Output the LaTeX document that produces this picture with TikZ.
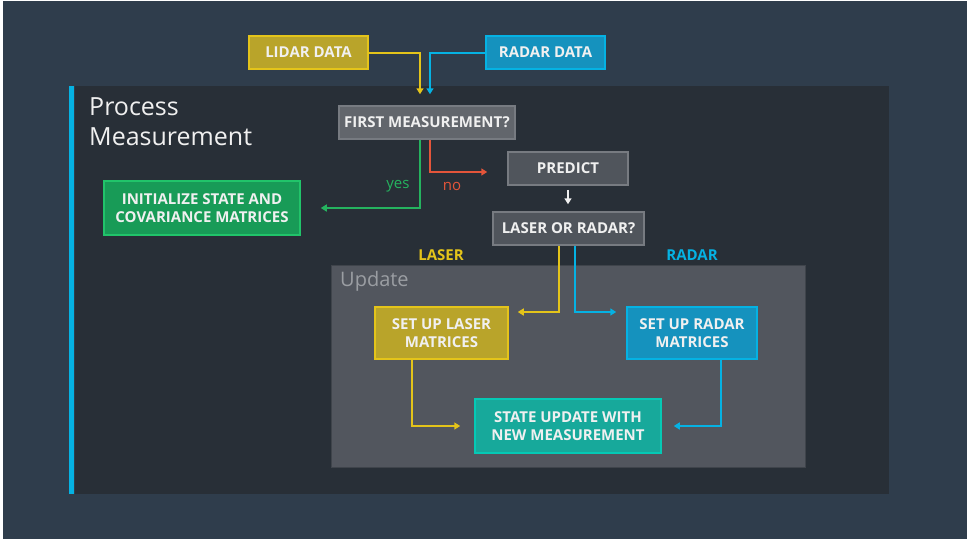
\documentclass[tikz,border=0pt]{standalone}
\usepackage{fontspec}
\setmainfont{Open Sans}
\usetikzlibrary{arrows.meta,positioning,calc}
\definecolor{bgslate}{HTML}{2F3D4C}
\definecolor{panel}{HTML}{282F37}
\definecolor{updfill}{HTML}{52565E}
\definecolor{upddraw}{HTML}{3F444B}
\definecolor{greyfill}{HTML}{50555C}
\definecolor{greylight}{HTML}{62666C}
\definecolor{greydraw}{HTML}{777B81}
\definecolor{lidarfill}{HTML}{B9A42A}
\definecolor{lidardraw}{HTML}{E4C41A}
\definecolor{radarfill}{HTML}{1592BE}
\definecolor{radardraw}{HTML}{05B2E3}
\definecolor{initfill}{HTML}{189B57}
\definecolor{initdraw}{HTML}{21C46A}
\definecolor{statefill}{HTML}{17A99B}
\definecolor{statedraw}{HTML}{05C9B5}
\definecolor{yesgreen}{HTML}{25B35F}
\definecolor{nored}{HTML}{E4553A}
\definecolor{ink}{HTML}{F0F0F0}
\definecolor{updtext}{HTML}{9B9EA3}
\tikzset{
  >={Triangle[length=6pt,width=7pt]},
  every node/.style={text=ink},
  box/.style={draw=greydraw,line width=1.5pt,fill=greyfill,minimum height=33pt,align=center,inner sep=2pt,font=\fontsize{15}{18.5}\selectfont\bfseries},
  lidarbox/.style={box,fill=lidarfill,draw=lidardraw},
  radarbox/.style={box,fill=radarfill,draw=radardraw},
  initbox/.style={box,fill=initfill,draw=initdraw},
  statebox/.style={box,fill=statefill,draw=statedraw},
  lidararr/.style={->,line width=2pt,draw=lidardraw},
  radararr/.style={->,line width=2pt,draw=radardraw},
  yesarr/.style={->,line width=2pt,draw=yesgreen},
  noarr/.style={->,line width=2pt,draw=nored},
  whitearr/.style={->,line width=2pt,draw=ink},
  tag/.style={font=\fontsize{15}{18}\selectfont},
}
\begin{document}
\begin{tikzpicture}[x=1pt,y=-1pt]
  \useasboundingbox (0,0) rectangle (967,539);
  \fill[white] (0,0) rectangle (967,539);
  \fill[bgslate] (3,1) rectangle (967,539);
  % panels
  \fill[panel] (75,86) rectangle (889,494);
  \fill[radardraw] (69,86) rectangle (74,494);
  \draw[upddraw,line width=1pt,fill=updfill] (331,265) rectangle (805,467);
  \node[anchor=north west,align=left,inner sep=0pt,font=\fontsize{25}{30}\selectfont] (title) at (89,97) {Process\\Measurement};
  \node[anchor=north west,inner sep=0pt,text=updtext,font=\fontsize{20}{24}\selectfont] (updtitle) at (340,271) {Update};

  \node[lidarbox,minimum width=119pt] (lidar) at (308.5,52.5) {LIDAR DATA};
  \node[radarbox,minimum width=119pt] (radar) at (545.5,52.5) {RADAR DATA};
  \node[box,fill=greylight,minimum width=176pt] (first) at (427,122.5) {FIRST MEASUREMENT?};
  \node[initbox,minimum width=196pt,minimum height=54pt] (init) at (202,208) {INITIALIZE STATE AND\\COVARIANCE MATRICES};
  \node[box,minimum width=120pt] (predict) at (568,168.5) {PREDICT};
  \node[box,minimum width=151pt] (lor) at (568.5,228.5) {LASER OR RADAR?};
  \node[lidarbox,minimum width=133pt,minimum height=52pt] (laser) at (441.5,333) {SET UP LASER\\MATRICES};
  \node[radarbox,minimum width=130pt,minimum height=52pt] (radarset) at (692,333) {SET UP RADAR\\MATRICES};
  \node[statebox,minimum width=186pt,minimum height=54pt] (state) at (568,426) {STATE UPDATE WITH\\NEW MEASUREMENT};

  \node[tag,text=yesgreen] (yes) at (398,186) {yes};
  \node[tag,text=nored] (no) at (452,186) {no};
  \node[tag,text=lidardraw,font=\fontsize{15}{18}\selectfont\bfseries] (lasertag) at (441,255) {LASER};
  \node[tag,text=radardraw,font=\fontsize{15}{18}\selectfont\bfseries] (radartag) at (692,255) {RADAR};

  \draw[lidararr,shorten >=11pt] (lidar.east) -| ([xshift=-7pt]first.north);
  \draw[radararr,shorten >=11pt] (radar.west) -| ([xshift=3pt]first.north);
  \draw[yesarr,shorten >=20pt] ([xshift=-7pt]first.south) |- (init.east);
  \draw[noarr,shorten >=20pt] ([xshift=3pt]first.south) |- ([yshift=-3.5pt]predict.west);
  \draw[whitearr,shorten <=4pt,shorten >=7pt] (predict.south) -- (predict.south |- lor.north);
  \draw[lidararr,shorten >=9pt] ([xshift=-9.5pt]lor.south) |- ([yshift=21pt]laser.east);
  \draw[radararr,shorten >=10pt] ([xshift=6.5pt]lor.south) |- ([yshift=21pt]radarset.west);
  \draw[lidararr,shorten >=14pt] ([xshift=-29.5pt]laser.south) |- (state.west);
  \draw[radararr,shorten >=12pt] ([xshift=29pt]radarset.south) |- (state.east);
\end{tikzpicture}
\end{document}
